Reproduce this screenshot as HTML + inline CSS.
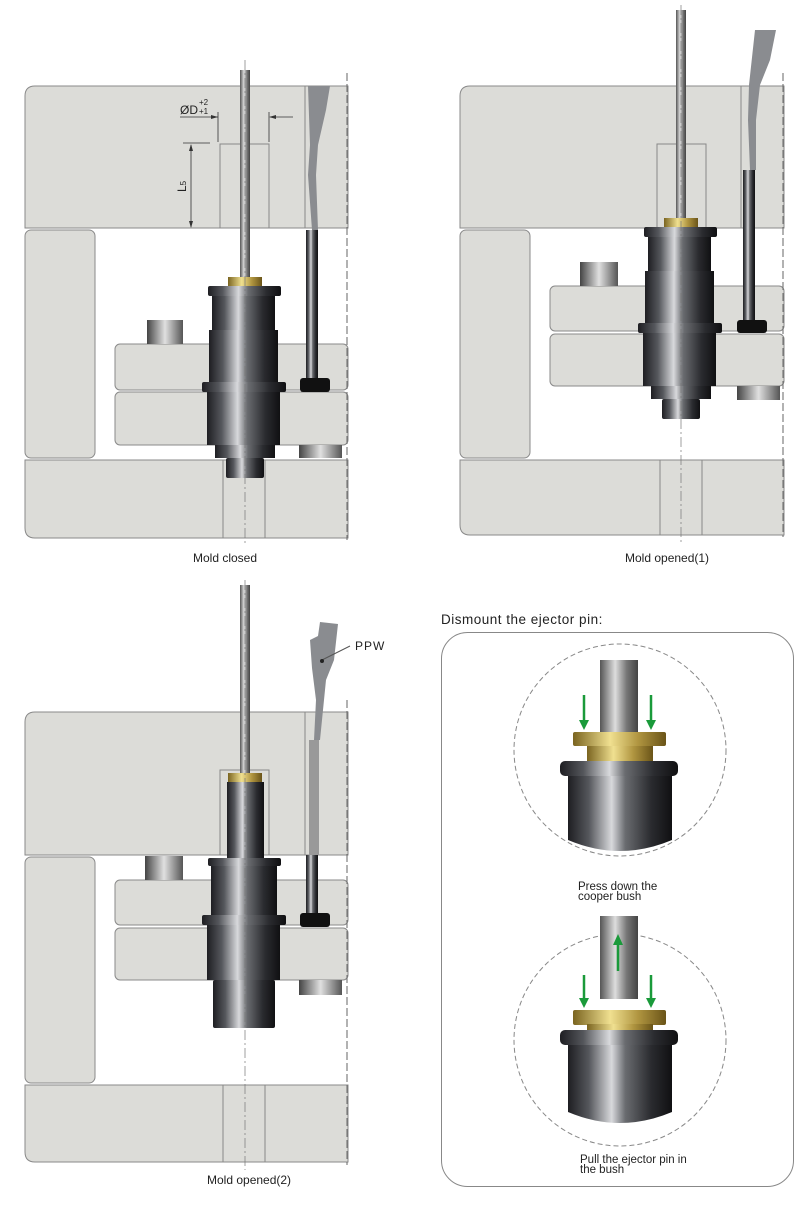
<!DOCTYPE html>
<html><head><meta charset="utf-8"><style>
html,body{margin:0;padding:0;background:#fff;width:804px;height:1218px;overflow:hidden}
svg{display:block}
text{font-family:"Liberation Sans",sans-serif;fill:#222}
</style></head><body>
<svg width="804" height="1218" viewBox="0 0 804 1218" xmlns="http://www.w3.org/2000/svg">
<defs>
<linearGradient id="m" x1="0" x2="1" y1="0" y2="0">
<stop offset="0" stop-color="#1e1e22"/><stop offset=".2" stop-color="#55575c"/><stop offset=".42" stop-color="#d8d9dc"/><stop offset=".55" stop-color="#6a6c70"/><stop offset=".8" stop-color="#2a2b2f"/><stop offset="1" stop-color="#101012"/></linearGradient>
<linearGradient id="pin" x1="0" x2="1"><stop offset="0" stop-color="#555"/><stop offset=".4" stop-color="#ddd"/><stop offset=".7" stop-color="#777"/><stop offset="1" stop-color="#444"/></linearGradient>
<linearGradient id="br" x1="0" x2="1"><stop offset="0" stop-color="#7a6420"/><stop offset=".4" stop-color="#f0e090"/><stop offset=".7" stop-color="#b09540"/><stop offset="1" stop-color="#6a5418"/></linearGradient>
<linearGradient id="blk" x1="0" x2="1"><stop offset="0" stop-color="#444"/><stop offset=".5" stop-color="#e0e0e0"/><stop offset="1" stop-color="#555"/></linearGradient>
<g id="asm">
<rect x="-17" y="0" width="34" height="9" fill="url(#br)"/>
<rect x="-37" y="9" width="73" height="10" rx="2" fill="url(#m)"/>
<rect x="-33" y="19" width="63" height="34" fill="url(#m)"/>
<rect x="-36" y="53" width="69" height="52" fill="url(#m)"/>
<rect x="-43" y="105" width="84" height="10" rx="2" fill="url(#m)"/>
<rect x="-38" y="115" width="73" height="53" fill="url(#m)"/>
<rect x="-30" y="168" width="60" height="13" fill="url(#m)"/>
<rect x="-19" y="181" width="38" height="20" rx="2" fill="url(#m)"/>
</g>
</defs>
<g fill="#dcdcd8" stroke="#8a8a8a" stroke-width="1">
<path d="M35 86 H348 V228 H25 V96 Q25 86 35 86Z"/>
<rect x="25" y="230" width="70" height="228" rx="6"/>
<rect x="115" y="344" width="233" height="46" rx="5"/>
<rect x="115" y="392" width="233" height="53" rx="5"/>
<path d="M25 460 H348 V538 H35 Q25 538 25 528Z"/>
<path d="M470 86 H784 V228 H460 V96 Q460 86 470 86Z"/>
<rect x="460" y="230" width="70" height="228" rx="6"/>
<rect x="550" y="286" width="234" height="45" rx="5"/>
<rect x="550" y="334" width="234" height="52" rx="5"/>
<path d="M460 460 H784 V535 H470 Q460 535 460 525Z"/>
<path d="M35 712 H348 V855 H25 V722 Q25 712 35 712Z"/>
<rect x="25" y="857" width="70" height="226" rx="6"/>
<rect x="115" y="880" width="233" height="45" rx="5"/>
<rect x="115" y="928" width="233" height="52" rx="5"/>
<path d="M25 1085 H348 V1162 H35 Q25 1162 25 1152Z"/>
</g>
<g fill="none" stroke="#888" stroke-width="1">
<rect x="220" y="144" width="49" height="84"/><line x1="223" y1="460" x2="223" y2="538"/><line x1="265" y1="460" x2="265" y2="538"/>
<rect x="657" y="144" width="49" height="84"/><line x1="660" y1="460" x2="660" y2="535"/><line x1="702" y1="460" x2="702" y2="535"/>
<rect x="220" y="770" width="49" height="85"/><line x1="223" y1="1085" x2="223" y2="1162"/><line x1="265" y1="1085" x2="265" y2="1162"/>
<line x1="305" y1="86" x2="305" y2="228"/><line x1="741" y1="86" x2="741" y2="228"/><line x1="305" y1="712" x2="305" y2="855"/>
</g>
<g stroke="#666" stroke-dasharray="8 3" stroke-width="1">
<line x1="347" y1="73" x2="347" y2="540"/><line x1="783" y1="73" x2="783" y2="537"/><line x1="347" y1="700" x2="347" y2="1165"/>
</g>
<g fill="url(#blk)">
<rect x="147" y="320" width="36" height="24"/><rect x="299" y="445" width="43" height="13"/>
<rect x="580" y="262" width="38" height="24"/><rect x="737" y="386" width="43" height="14"/>
<rect x="145" y="856" width="38" height="24"/><rect x="299" y="980" width="43" height="15"/>
</g>
<g fill="#8a8c90">
<path d="M308 86 L330 86 L326 110 L318 145 L316 175 L318 230 L312 230 L308 175 L310 145 Z"/>
<path d="M755 30 L776 30 L770 60 L760 85 L756 120 L756 170 L750 170 L748 120 L749 85 Z"/>
<path d="M320 622 L338 624 L334 660 L326 680 L322 720 L320 740 L314 740 L316 700 L312 668 L310 640 L318 636 Z"/>
</g>
<g fill="url(#m)">
<rect x="306" y="230" width="12" height="148"/><rect x="300" y="378" width="30" height="14" rx="3" fill="#111"/>
<rect x="743" y="170" width="12" height="150"/><rect x="737" y="320" width="30" height="13" rx="3" fill="#111"/>
<rect x="306" y="855" width="12" height="58"/><rect x="300" y="913" width="30" height="14" rx="3" fill="#111"/>
<rect x="309" y="740" width="10" height="115" fill="#999"/>
</g>
<line x1="322" y1="660" x2="350" y2="646" stroke="#555"/><circle cx="322" cy="661" r="2" fill="#222"/>
<text x="355" y="650" font-size="12" letter-spacing="1">PPW</text>
<rect x="240" y="70" width="10" height="207" fill="url(#pin)"/>
<use href="#asm" x="245" y="277"/>
<rect x="676" y="10" width="10" height="208" fill="url(#pin)"/>
<use href="#asm" x="681" y="218"/>
<rect x="240" y="585" width="10" height="188" fill="url(#pin)"/>
<rect x="228" y="773" width="34" height="9" fill="url(#br)"/>
<rect x="227" y="782" width="37" height="76" fill="url(#m)"/>
<rect x="208" y="858" width="73" height="8" rx="2" fill="url(#m)"/>
<rect x="211" y="866" width="66" height="49" fill="url(#m)"/>
<rect x="202" y="915" width="84" height="10" rx="2" fill="url(#m)"/>
<rect x="207" y="925" width="73" height="55" fill="url(#m)"/>
<rect x="213" y="980" width="62" height="48" rx="2" fill="url(#m)"/>
<g stroke="#777" stroke-width="0.7" stroke-dasharray="10 3 2 3">
<line x1="245" y1="60" x2="245" y2="545"/><line x1="681" y1="5" x2="681" y2="545"/><line x1="245" y1="580" x2="245" y2="1170"/>
</g>
<g stroke="#333" stroke-width="0.8" fill="none">
<line x1="180" y1="117" x2="218" y2="117"/><line x1="218" y1="112" x2="218" y2="142"/><line x1="269" y1="112" x2="269" y2="142"/><line x1="270" y1="117" x2="293" y2="117"/>
<line x1="183" y1="143" x2="210" y2="143"/><line x1="191" y1="145" x2="191" y2="227"/>
</g>
<path d="M218 117 l-7 -2 v4z M269 117 l7 -2 v4z M191 144 l-2 7 h4z M191 228 l-2 -7 h4z" fill="#333"/>
<text x="180" y="114" font-size="12">ØD</text><text x="199" y="105" font-size="8">+2</text><text x="199" y="114" font-size="8">+1</text>
<text transform="translate(186,192) rotate(-90)" font-size="12">L<tspan font-size="8">5</tspan></text>
<text x="193" y="562" font-size="12">Mold closed</text>
<text x="625" y="562" font-size="12">Mold opened(1)</text>
<text x="207" y="1184" font-size="12">Mold opened(2)</text>
<text x="441" y="624" font-size="13.5" letter-spacing="0.5">Dismount the ejector pin:</text>
<rect x="441.5" y="632.5" width="352" height="554" rx="26" fill="none" stroke="#888"/>
<circle cx="620" cy="750" r="106" fill="none" stroke="#888" stroke-dasharray="5 3"/>
<circle cx="620" cy="1040" r="106" fill="none" stroke="#888" stroke-dasharray="5 3"/>
<g>
<rect x="600" y="660" width="38" height="74" fill="url(#pin)"/>
<rect x="573" y="732" width="93" height="14" rx="2" fill="url(#br)"/>
<rect x="587" y="746" width="66" height="15" fill="url(#br)"/>
<rect x="560" y="761" width="118" height="15" rx="5" fill="url(#m)"/>
<path d="M568 776 H672 V840 Q620 862 568 840Z" fill="url(#m)"/>
<rect x="600" y="916" width="38" height="83" fill="url(#pin)"/>
<rect x="573" y="1010" width="93" height="15" rx="2" fill="url(#br)"/>
<rect x="587" y="1024" width="66" height="6" fill="url(#br)"/>
<rect x="560" y="1030" width="118" height="15" rx="5" fill="url(#m)"/>
<path d="M568 1045 H672 V1112 Q620 1134 568 1112Z" fill="url(#m)"/>
</g>
<g fill="#1a9a3a" stroke="#1a9a3a" stroke-width="2.5">
<line x1="584" y1="695" x2="584" y2="722"/><path d="M579 720 h10 l-5 10z" stroke="none"/>
<line x1="651" y1="695" x2="651" y2="722"/><path d="M646 720 h10 l-5 10z" stroke="none"/>
<line x1="584" y1="975" x2="584" y2="1000"/><path d="M579 998 h10 l-5 10z" stroke="none"/>
<line x1="651" y1="975" x2="651" y2="1000"/><path d="M646 998 h10 l-5 10z" stroke="none"/>
<line x1="618" y1="971" x2="618" y2="943"/><path d="M613 945 h10 l-5 -11z" stroke="none"/>
</g>
<text x="578" y="890" font-size="11.5">Press down the</text>
<text x="578" y="900" font-size="11.5">cooper bush</text>
<text x="580" y="1163" font-size="11.5">Pull the ejector pin in</text>
<text x="580" y="1173" font-size="11.5">the bush</text>
</svg>
</body></html>
